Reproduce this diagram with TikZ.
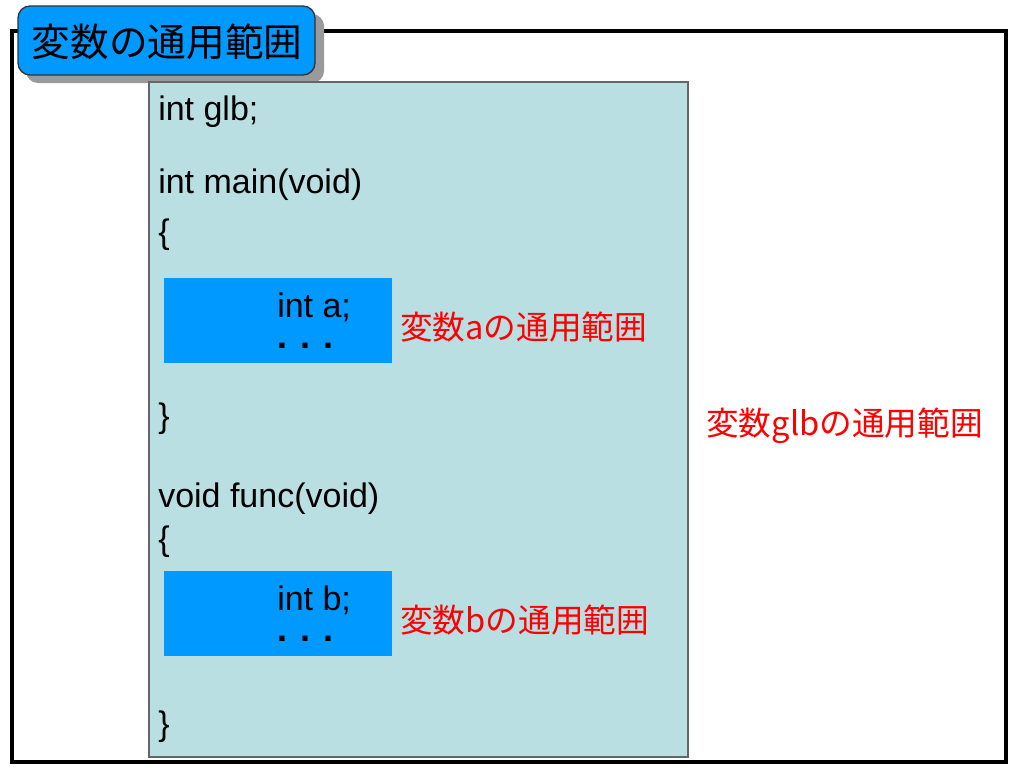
\documentclass[tikz,border=0pt]{standalone}
\usepackage{fontspec}
\setmainfont{Liberation Sans}
\newfontfamily\cjk{Noto Sans CJK JP}
\definecolor{codebg}{HTML}{BADFE3}
\definecolor{scopeblue}{HTML}{0099FF}
\definecolor{shadowgray}{HTML}{9A9A9A}
\begin{document}
\begin{tikzpicture}[x=0.75pt,y=-0.75pt,
  code/.style={anchor=base west,inner sep=0pt,font=\fontsize{25.5}{30}\selectfont},
  decl/.style={code,text depth=0pt},
  dots/.style={anchor=base west,inner sep=0pt,text height=5pt,text depth=0pt,font=\fontsize{27}{30}\selectfont\bfseries},
  scopelabel/.style={anchor=west,inner sep=0pt,text=red,font=\fontsize{24.5}{30}\selectfont\cjk}]
\useasboundingbox (0,0) rectangle (1024,768);
\fill[white] (0,0) rectangle (1024,768);
% outer frame
\draw[line width=2.4pt] (12,31) rectangle (1006,762);
% title with shadow
\fill[shadowgray,rounded corners=9pt] (26,14) rectangle (324,83);
\draw[fill=scopeblue,draw=black!80,line width=1pt,rounded corners=9pt] (18,6) rectangle (315,75);
\node[inner sep=0pt,font=\fontsize{29}{32}\selectfont\cjk] (title) at (167,42) {変数の通用範囲};
% code area
\draw[fill=codebg,draw=black!60,line width=0.8pt] (149,82) rectangle (688,757);
\fill[scopeblue] (164,278) rectangle (392,363);
\fill[scopeblue] (164,571) rectangle (392,656);
% code text
\node[code] (l1) at (158,120) {int glb;};
\node[code] (l2) at (158,193) {int main(void)};
\node[code] (l3) at (158,243) {\{};
\node[decl] (a1) at (277,317) {int a;};
\node[dots] (a2) at (277,348) {. . .};
\node[code] (l4) at (158,427) {\}};
\node[code] (l5) at (158,507) {void func(void)};
\node[code] (l6) at (158,550) {\{};
\node[decl] (b1) at (277,610) {int b;};
\node[dots] (b2) at (277,641) {. . .};
\node[code] (l7) at (158,735) {\}};
% scope labels
\node[scopelabel] (la) at (400,327) {変数aの通用範囲};
\node[scopelabel] (lb) at (400,620) {変数bの通用範囲};
\node[scopelabel] (lg) at (706,426) {変数glbの通用範囲};
\end{tikzpicture}
\end{document}
